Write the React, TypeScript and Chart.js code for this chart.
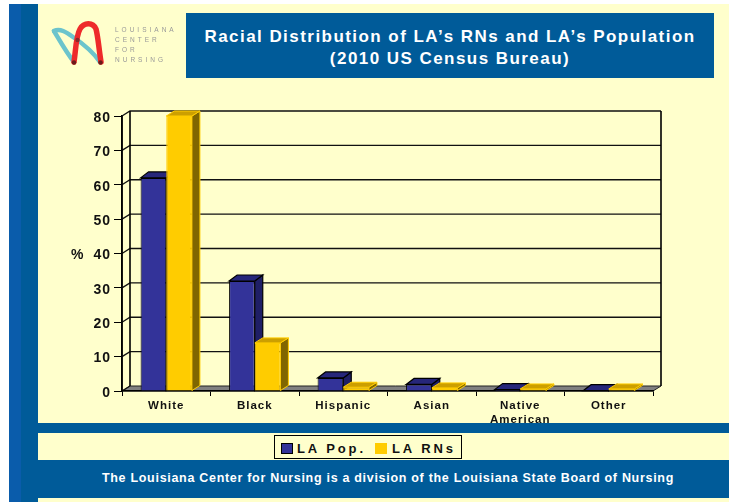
import React, { useEffect, useRef } from "react";
import { Chart, registerables } from "chart.js";

Chart.register(...registerables);

const categories = ["White", "Black", "Hispanic", "Asian", ["Native", "American"], "Other"];
const laPop = [62, 32, 3.8, 1.9, 0.4, 0.1];
const laRNs = [80, 14, 1.1, 0.9, 0.6, 0.6];
const yTicks = [0, 10, 20, 30, 40, 50, 60, 70, 80];

const CREAM = "#ffffcc";
const BLUE = "#005b99";
const DX = 8;
const DY = 5;

const FONT = "'Liberation Sans', Arial, sans-serif";

function shade(ctx: CanvasRenderingContext2D, pts: number[][], fill: string, stroke: string, lw = 1) {
  ctx.beginPath();
  pts.forEach((p, i) => (i ? ctx.lineTo(p[0], p[1]) : ctx.moveTo(p[0], p[1])));
  ctx.closePath();
  ctx.fillStyle = fill;
  ctx.fill();
  ctx.lineWidth = lw;
  ctx.strokeStyle = stroke;
  ctx.stroke();
}

const wall3d = {
  id: "wall3d",
  beforeDraw(chart: any) {
    const ctx = chart.ctx as CanvasRenderingContext2D;
    (ctx as any).letterSpacing = "1px";
    const { left, right, bottom } = chart.chartArea;
    const y = chart.scales.y;
    ctx.save();
    shade(ctx, [[left, bottom], [left + DX, bottom - DY], [right + DX, bottom - DY], [right, bottom]], "#808080", "#222", 1);
    ctx.strokeStyle = "#111";
    ctx.lineWidth = 1.3;
    yTicks.forEach((t) => {
      const py = y.getPixelForValue(t);
      ctx.beginPath();
      ctx.moveTo(left, py);
      ctx.lineTo(left + DX, py - DY);
      if (t > 0) ctx.lineTo(right + DX, py - DY);
      ctx.stroke();
    });
    ctx.lineWidth = 1.6;
    ctx.strokeStyle = "#000";
    const top = y.getPixelForValue(80);
    ctx.beginPath();
    ctx.moveTo(left + DX, bottom - DY);
    ctx.lineTo(left + DX, top - DY);
    ctx.moveTo(right + DX, top - DY);
    ctx.lineTo(right + DX, bottom - DY);
    ctx.moveTo(left, bottom);
    ctx.lineTo(left, top);
    ctx.stroke();
    ctx.restore();
  },
  beforeDatasetsDraw(chart: any) {
    const ctx = chart.ctx as CanvasRenderingContext2D;
    ctx.save();
    const styles = [
      { side: "#1f1f66", top: "#26267a", edge: "#000000", lw: 1.2, dy: 6 },
      { side: "#806600", top: "#cc9f00", edge: "#ffcc00", lw: 1, dy: 5 },
    ];
    [0, 1].forEach((d) => {
      const s = styles[d];
      chart.getDatasetMeta(d).data.forEach((el: any) => {
        const l = el.x - el.width / 2;
        const r = el.x + el.width / 2;
        const t = el.y;
        const b = el.base;
        shade(ctx, [[r, t], [r + DX, t - s.dy], [r + DX, b - s.dy], [r, b]], s.side, s.edge, s.lw);
        shade(ctx, [[l, t], [l + DX, t - s.dy], [r + DX, t - s.dy], [r, t]], s.top, s.edge, s.lw);
      });
    });
    ctx.restore();
  },
};

const logoLines = ["LOUISIANA", "CENTER", "FOR", "NURSING"];

export default function App() {
  const ref = useRef<HTMLCanvasElement>(null);
  useEffect(() => {
    const chart = new Chart(ref.current!, {
      type: "bar",
      data: {
        labels: categories as any,
        datasets: [
          { label: "LA Pop.", data: laPop, backgroundColor: "#333399", borderColor: "#000000", borderWidth: 1 },
          { label: "LA RNs", data: laRNs, backgroundColor: "#ffcc00", borderColor: "#ffcc00", borderWidth: 1 },
        ],
      },
      options: {
        responsive: false,
        animation: false,
        layout: { padding: { left: 70, top: 116, right: 80, bottom: 69 } },
        datasets: { bar: { barPercentage: 1, categoryPercentage: 0.58 } },
        plugins: { legend: { display: false }, title: { display: false }, tooltip: { enabled: false } },
        scales: {
          x: {
            grid: { display: true, drawOnChartArea: false, color: "#000", tickLength: 5, offset: true },
            border: { color: "#000", width: 1.6 },
            ticks: {
              color: "#111",
              font: { family: FONT, size: 11.5, weight: "bold", lineHeight: 1.2 },
              padding: 3,
              maxRotation: 0,
              autoSkip: false,
            },
            afterFit(s: any) {
              s.height = 42;
            },
          },
          y: {
            min: 0,
            max: 80,
            grid: { display: true, drawOnChartArea: false, color: "#000", tickLength: 8 },
            border: { color: "#000", width: 1.6 },
            ticks: { stepSize: 10, color: "#111", font: { family: FONT, size: 14, weight: "bold" }, padding: 3, labelOffset: 2 },
            afterFit(s: any) {
              s.width = 52;
            },
          },
        },
      },
      plugins: [wall3d],
    } as any);
    return () => chart.destroy();
  }, []);

  const abs = (l: number, t: number, w: number, h: number, bg: string): React.CSSProperties => ({
    position: "absolute",
    left: l,
    top: t,
    width: w,
    height: h,
    background: bg,
  });

  return (
    <div style={{ position: "absolute", left: 0, top: 0, width: 733, height: 502, overflow: "hidden", background: "#fff", fontFamily: FONT }}>
      <div style={abs(9, 4, 720, 498, CREAM)} />
      <div style={abs(9, 4, 12, 498, "#0a5cab")} />
      <div style={abs(21, 4, 17, 498, BLUE)} />
      <canvas ref={ref} width={733} height={502} style={{ position: "absolute", left: 0, top: 0 }} />
      <div style={abs(38, 423, 691, 10, BLUE)} />
      <div style={abs(38, 460, 691, 38, BLUE)} />
      <div style={{ position: "absolute", left: 71, top: 246, fontWeight: "bold", fontSize: 14, color: "#111" }}>%</div>
      <div
        style={{
          ...abs(186, 13, 528, 65, BLUE),
          color: "#fff",
          fontWeight: "bold",
          fontSize: 17,
          lineHeight: "22px",
          letterSpacing: 1.45,
          textAlign: "center",
          paddingTop: 13,
          boxSizing: "border-box",
        }}
      >
        Racial Distribution of LA’s RNs and LA’s Population
        <br />
        (2010 US Census Bureau)
      </div>
      <div
        style={{
          ...abs(38, 460, 691, 38, "transparent"),
          color: "#fff",
          fontWeight: "bold",
          fontSize: 12.5,
          lineHeight: "36px",
          letterSpacing: 0.7,
          textAlign: "center",
          paddingLeft: 9,
          boxSizing: "border-box",
        }}
      >
        The Louisiana Center for Nursing is a division of the Louisiana State Board of Nursing
      </div>
      <div style={{ ...abs(274, 435, 188, 24, CREAM), border: "1.5px solid #000", boxSizing: "border-box" }} />
      <div style={{ ...abs(281, 443, 12, 11, "#333399"), border: "1px solid #000", boxSizing: "border-box" }} />
      <div style={{ position: "absolute", left: 297, top: 441, fontWeight: "bold", fontSize: 13, letterSpacing: 2.9, color: "#111" }}>LA Pop.</div>
      <div style={abs(375, 443, 12, 11, "#ffcc00")} />
      <div style={{ position: "absolute", left: 392, top: 441, fontWeight: "bold", fontSize: 13, letterSpacing: 2.9, color: "#111" }}>LA RNs</div>
      <svg style={{ position: "absolute", left: 50, top: 20 }} width={60} height={48} viewBox="50 20 60 48">
        <path d="M54 31 C60 28 66 32 73 37 C85 45 93 52 100 62" fill="none" stroke="#6cc4cc" strokeWidth={4.5} strokeLinecap="round" />
        <path d="M54 31 C60 41 66 52 74 62" fill="none" stroke="#6cc4cc" strokeWidth={4.5} strokeLinecap="round" />
        <path d="M74 62 C76 48 76 36 80 29 C84 22 93 22 96 29 C98 36 99 50 101 62" fill="none" stroke="#ee2a2a" strokeWidth={5.5} strokeLinecap="round" />
        <circle cx={74} cy={62.5} r={2.2} fill="#6b1a1a" />
        <circle cx={100.5} cy={62.5} r={2.2} fill="#6b1a1a" />
        <circle cx={77.5} cy={40} r={2.2} fill="#8a2a2a" />
      </svg>
      <div style={{ position: "absolute", left: 115, top: 25, fontSize: 6.5, lineHeight: "10px", letterSpacing: 3, color: "#999", whiteSpace: "pre" }}>
        {logoLines.join("\n")}
      </div>
    </div>
  );
}
